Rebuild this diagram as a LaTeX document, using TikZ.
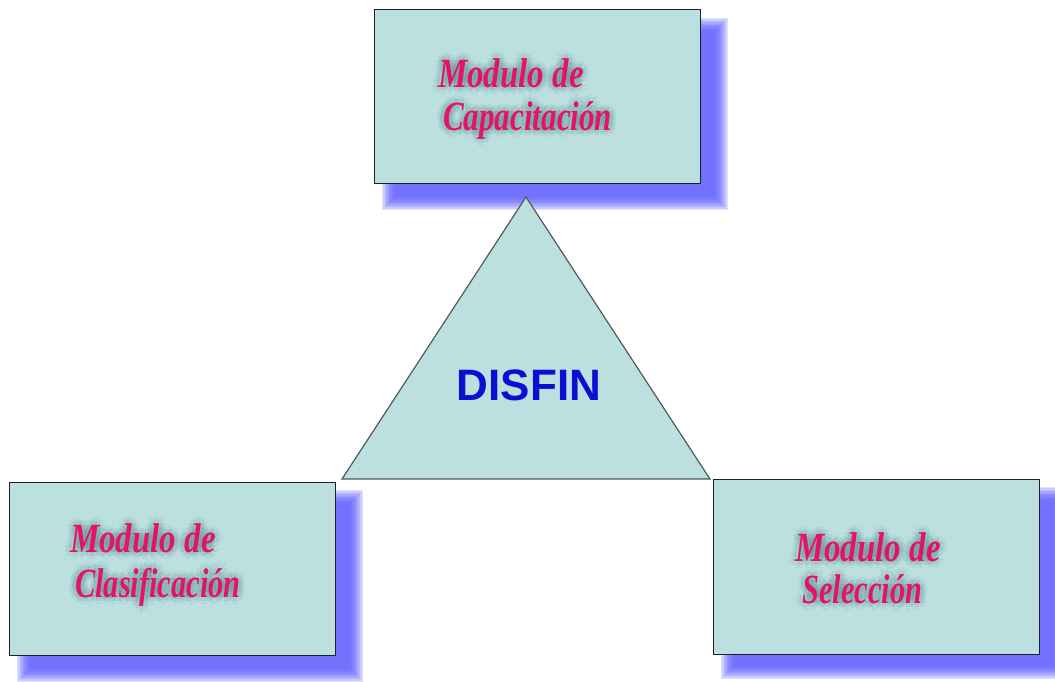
\documentclass[tikz,border=0pt]{standalone}
\usepackage{fontspec}
\usepackage{graphicx}
\newfontfamily\scr{Liberation Serif}
\setsansfont{Liberation Sans}
\usetikzlibrary{calc}
\definecolor{boxfill}{RGB}{188,224,224}
\definecolor{shadowblue}{RGB}{90,90,255}
\definecolor{modtext}{RGB}{228,18,105}
\definecolor{glow}{RGB}{40,100,100}
\definecolor{disfin}{RGB}{10,16,210}
\definecolor{edge}{RGB}{30,30,40}
\definecolor{triedge}{RGB}{80,90,90}
\tikzset{
  modbox/.style={draw=edge, line width=1.4pt, fill=boxfill},
  lbl/.style={anchor=base west, inner sep=0pt, text=modtext,
    font=\scr\bfseries\itshape\fontsize{32}{32}\selectfont},
  halo/.style={lbl, text=glow, opacity=0.06},
  shadowlayer/.style={fill=shadowblue, opacity=0.17},
  title/.style={anchor=base, inner sep=0pt, text=disfin,
    font=\sffamily\bfseries\fontsize{44}{44}\selectfont}
}
\newcommand\blurshadow[4]{%
  \foreach \k in {0,...,9}{%
    \fill[shadowlayer] ({#1+\k*1.4},{#2+\k*1.4}) rectangle ({#3-\k*1.4},{#4-\k*1.4});
  }%
}
\newcommand\gtext[4]{%
  \foreach \a in {0,45,...,315}{%
    \node[halo] at ($(#2)+(\a:4)$) {\scalebox{#4}[1.3]{#3}};
    \node[halo] at ($(#2)+(\a:7)$) {\scalebox{#4}[1.3]{#3}};
  }%
  \node[lbl] (#1) at (#2) {\scalebox{#4}[1.3]{#3}};
}
\begin{document}
\begin{tikzpicture}[x=1pt,y=-1pt]
\useasboundingbox[fill=white] (0,0) rectangle (1055,681);
% shadows
\blurshadow{382}{18}{728}{210}
\blurshadow{17}{490}{363}{682}
\blurshadow{721}{487}{1067}{679}
% boxes
\node[modbox, minimum width=326pt, minimum height=174pt, anchor=north west] (top) at (374,9) {};
\node[modbox, minimum width=326pt, minimum height=173pt, anchor=north west] (left) at (9,482) {};
\node[modbox, minimum width=326pt, minimum height=175pt, anchor=north west] (right) at (713,479) {};
% triangle
\coordinate (apex) at (526,197);
\coordinate (bl) at (342,479);
\coordinate (br) at (710,479);
\draw[triedge, line width=1.2pt, fill=boxfill, line join=miter] (apex) -- (bl) -- (br) -- cycle;
\node[title] (disfin) at (529,400) {DISFIN};
% texts
\coordinate (t1) at (438,87);
\coordinate (t2) at (443,130);
\coordinate (l1) at (70,552);
\coordinate (l2) at (75,597);
\coordinate (r1) at (795,561);
\coordinate (r2) at (802,603);
\gtext{top1}{t1}{Modulo de}{1.03}
\gtext{top2}{t2}{Capacitación}{0.97}
\gtext{left1}{l1}{Modulo de}{1.03}
\gtext{left2}{l2}{Clasificación}{0.95}
\gtext{right1}{r1}{Modulo de}{1.03}
\gtext{right2}{r2}{Selección}{0.95}
\end{tikzpicture}
\end{document}
